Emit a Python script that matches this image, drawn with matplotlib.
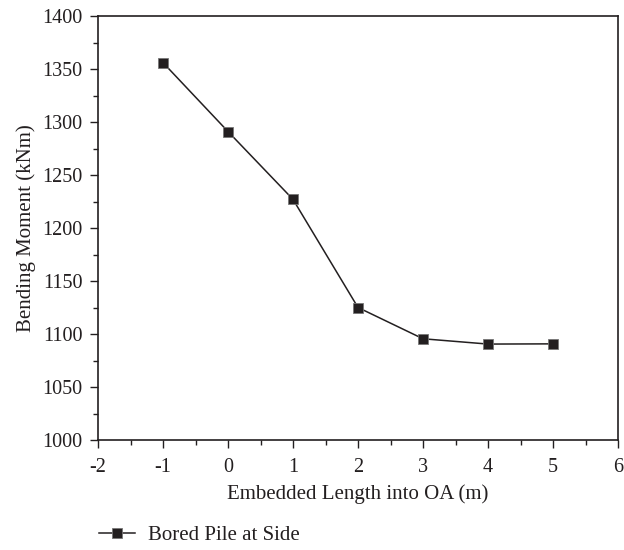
import matplotlib
matplotlib.use("Agg")
import matplotlib.pyplot as plt
from matplotlib.ticker import MultipleLocator

x_vals = [-1, 0, 1, 2, 3, 4, 5]
moment = [1356, 1291, 1227, 1125, 1095.5, 1090.5, 1090.7]
series_label = "Bored Pile at Side"
x_label = "Embedded Length into OA (m)"
y_label = "Bending Moment (kNm)"

plt.rcParams['font.family'] = ['Liberation Serif', 'DejaVu Serif']
plt.rcParams['axes.unicode_minus'] = False

fig = plt.figure(figsize=(6.24, 5.5), dpi=100)
ax = fig.add_axes([98/624, 1-440/550, (618-98)/624, (440-16)/550])

line, = ax.plot(x_vals, moment, color='#231f20', lw=1.1, marker='s', ms=7.5,
                markerfacecolor='#231f20', markeredgecolor='#777777', markeredgewidth=0.6)

ax.set_xlim(-2, 6)
ax.set_ylim(1000, 1400)
ax.xaxis.set_major_locator(MultipleLocator(1))
ax.xaxis.set_minor_locator(MultipleLocator(0.5))
ax.yaxis.set_major_locator(MultipleLocator(50))
ax.yaxis.set_minor_locator(MultipleLocator(25))
ax.tick_params(which='major', direction='out', length=6, width=1, labelsize=14.5,
               color='#231f20', labelcolor='#231f20')
ax.tick_params(axis='x', which='major', pad=7)
ax.tick_params(axis='y', which='major', pad=5)
ax.tick_params(which='minor', direction='out', length=3.5, width=1, color='#231f20')
for s in ax.spines.values():
    s.set_linewidth(1.2)
    s.set_color('#231f20')

ax.set_xlabel(x_label, fontsize=15, color='#231f20', labelpad=5)
ax.set_ylabel(y_label, fontsize=15, color='#231f20', labelpad=5)

fig.legend([line], [series_label], loc='center left', bbox_to_anchor=(0.129, 1-535/550),
           frameon=False, fontsize=15, handlelength=1.7, handletextpad=0.65,
           labelcolor='#231f20')

fig.savefig("out.png", dpi=100)
